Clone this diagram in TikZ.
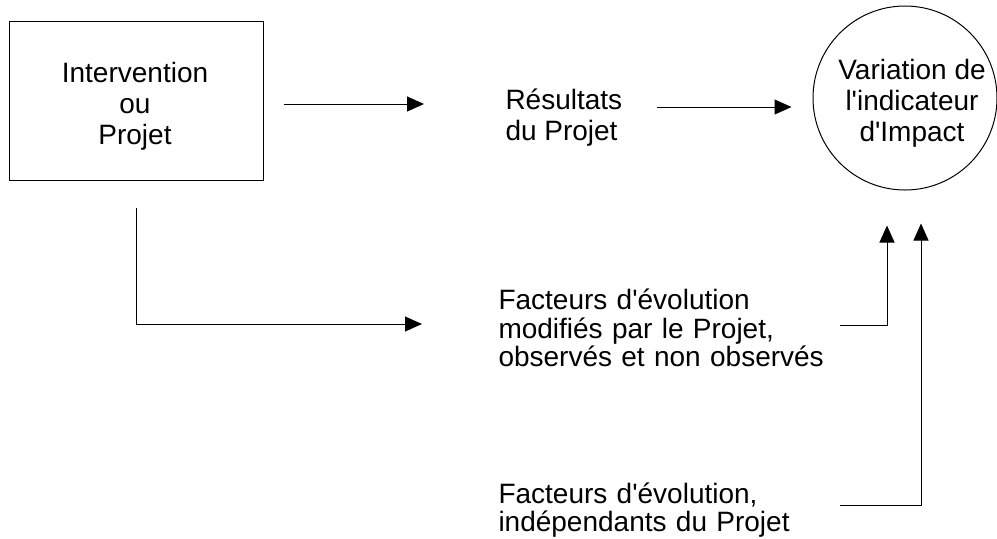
\documentclass[tikz,border=0pt]{standalone}
\usepackage{fontspec}
\setmainfont{Liberation Sans}[Ligatures=TeXOff]
\usetikzlibrary{arrows.meta,calc,positioning,shapes}
\tikzset{
  textnode/.style = {inner sep=0pt, black, draw=none, font=\fontsize{14pt}{15.5pt}\selectfont},
  txt_c/.style = {textnode, align=center},
  txt_l/.style = {textnode, align=left, anchor=west},
  txt_f/.style = {txt_l, text width=170.5pt, font=\fontsize{14pt}{14.25pt}\selectfont}
}

\begin{document}
\begin{tikzpicture}[x=0.5pt,y=-0.5pt,->,>={Triangle[length=8.5pt,width=7.5pt]},
        line width=0.5pt,
        rect_n/.style={draw, rectangle, minimum width=127pt, minimum height=79.5pt},
        circ_n/.style={draw, circle, minimum size=92pt, inner sep=0pt}]
        \useasboundingbox (0,0) rectangle (997,538);
        \node [rect_n] (interv) at (136,100.5) {};
        \node [txt_c] (interv_lbl) at (135,106) {Intervention\\ou\\Projet};
        \node [txt_l] (result) at (505,118) {Résultats\\du Projet};
        \node [circ_n] (impact) at (905,98) {};
        \node [txt_c] (impact_lbl) at (912,103) {Variation de\\l'indicateur\\d'Impact};
        \node [txt_f] (fact_mod) at (498,328) {Facteurs d'évolution\\modifiés par le Projet,\\observés et non observés};
        \node [txt_f] (fact_ind) at (498,510) {Facteurs d'évolution,\\indépendants du Projet};
        \draw [shorten <=10pt, shorten >=40.5pt] (interv.east |- 0,104) -- (result.west |- 0,104);
        \draw [shorten <=17pt, shorten >=10.5pt] (result.east |- 0,107) -- (impact.west |- 0,107);
        \draw [shorten <=13.5pt, shorten >=38pt] (interv.south) |- ([yshift=2pt]fact_mod.west);
        \draw [shorten >=17.5pt] ([yshift=1.5pt]fact_mod.east) -| (887,0 |- impact.south);
        \draw [shorten >=16.5pt] ([yshift=2.5pt]fact_ind.east) -| (921,0 |- impact.south);
\end{tikzpicture}
\end{document}
